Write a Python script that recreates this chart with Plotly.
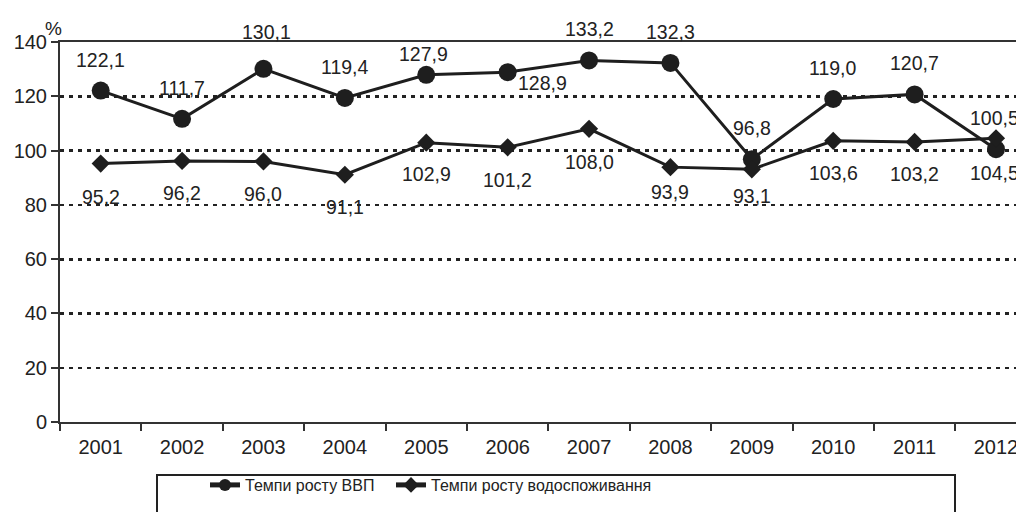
import plotly.graph_objects as go

years = ["2001", "2002", "2003", "2004", "2005", "2006", "2007", "2008", "2009", "2010", "2011", "2012"]
gdp = [122.1, 111.7, 130.1, 119.4, 127.9, 128.9, 133.2, 132.3, 96.8, 119.0, 120.7, 100.5]
water = [95.2, 96.2, 96.0, 91.1, 102.9, 101.2, 108.0, 93.9, 93.1, 103.6, 103.2, 104.5]
gdp_name = "Темпи росту ВВП"
water_name = "Темпи росту водоспоживання"
y_ticks = [0, 20, 40, 60, 80, 100, 120, 140]

# label offsets (pixels) - styling only
gdp_dx = [0, 0, 3, 0, -3, 35, 0, 0, 0, 0, 0, -2]
gdp_dy = [31, 31, 37, 31, 21, -11, 31, 31, 31, 31, 31, 31]
water_dx = [0, 0, 0, 0, 0, 0, 0, 0, 0, 0, 0, -2]
water_dy = [-33, -32, -33, -32, -31, -33, -33, -25, -27, -32, -32, -35]

ink = "#1e1e1e"
font_main = "Liberation Sans, Arial, sans-serif"

# page pixel -> paper helpers (plot area: x 60..1024, y 42..422 on the page)
def px(xp):
    return (xp - 60) / 964

def py(yp):
    return (422 - yp) / 380

fig = go.Figure()
fig.add_trace(go.Scatter(x=years, y=gdp, name=gdp_name, mode="lines+markers",
                         line=dict(color=ink, width=3),
                         marker=dict(symbol="circle", size=18, color=ink), legend="legend"))
fig.add_trace(go.Scatter(x=years, y=water, name=water_name, mode="lines+markers",
                         line=dict(color=ink, width=3),
                         marker=dict(symbol="diamond", size=14, color=ink), legend="legend2"))

def fmt(v):
    return f"{v:.1f}".replace(".", ",")

annots = []
for vs, dxs, dys in ((gdp, gdp_dx, gdp_dy), (water, water_dx, water_dy)):
    for i, (v, dx, dy) in enumerate(zip(vs, dxs, dys)):
        annots.append(dict(x=i, y=v, xref="x", yref="y", text=fmt(v), showarrow=False,
                           xshift=dx, yshift=dy,
                           font=dict(family=font_main, size=19.5, color="#222")))
annots.append(dict(xref="paper", yref="paper", x=px(64), y=py(41), text="%", showarrow=False,
                   xanchor="right", yanchor="bottom", font=dict(family=font_main, size=19, color="#222")))

leg_common = dict(orientation="h", yanchor="middle", y=py(485), xanchor="left",
                  font=dict(family=font_main, size=16, color="#222"),
                  bgcolor="rgba(0,0,0,0)", itemsizing="constant", itemclick=False)

fig.update_layout(
    width=1016, height=504,
    margin=dict(l=52, r=0, t=34, b=90),
    paper_bgcolor="white", plot_bgcolor="white",
    showlegend=True,
    legend=dict(leg_common, x=px(205)),
    legend2=dict(leg_common, x=px(391)),
    annotations=annots,
    shapes=[dict(type="rect", xref="paper", yref="paper",
                 x0=px(157), x1=px(955), y0=py(475), y1=py(560),
                 line=dict(color="#222", width=2), fillcolor="rgba(0,0,0,0)", layer="below")],
)
fig.update_xaxes(type="category", range=[-0.5, 11.344], showline=True, linecolor="#333", linewidth=2,
                 mirror=True, ticks="outside", tickson="boundaries", ticklen=7, tickwidth=2, tickcolor="#333",
                 ticklabelstandoff=6,
                 showgrid=False, tickfont=dict(family=font_main, size=20, color="#222"))
fig.update_yaxes(range=[0, 140], tickvals=y_ticks, showline=True, linecolor="#333", linewidth=2,
                 ticks="outside", ticklen=7, tickwidth=2, tickcolor="#333", ticklabelstandoff=0,
                 showgrid=True, gridcolor="#222", gridwidth=2, griddash="4px,5px", zeroline=False,
                 tickfont=dict(family=font_main, size=20, color="#222"),
                 minor=dict(tickvals=[40, 60, 100, 120], showgrid=True, gridcolor="#222", gridwidth=3,
                            griddash="4px,5px", ticks=""))

fig.write_html("out.html")
